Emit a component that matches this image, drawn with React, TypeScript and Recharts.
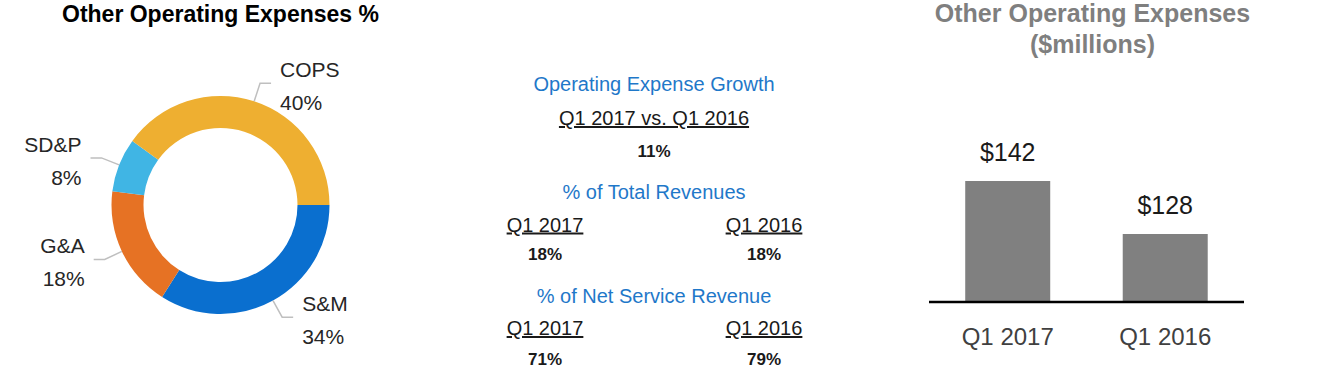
import React from 'react';
import { PieChart, Pie, Cell, BarChart, Bar, XAxis, YAxis, LabelList } from 'recharts';

// donut: share of other operating expenses (clockwise from 3 o'clock)
const sliceNames = ['S&M', 'G&A', 'SD&P', 'COPS'];
const sliceValues = [34, 18, 8, 40];
const sliceColors = ['#0A6FCF', '#E67224', '#40B5E4', '#EEAF31'];

// middle text block
const growthLabel = 'Q1 2017 vs. Q1 2016';
const growthValue = '11%';
const periods = ['Q1 2017', 'Q1 2016'];
const totalRevenuePct = [18, 18];
const netServicePct = [71, 79];

// bars ($ millions)
const barValues = [142, 128];

const FONT = '"Liberation Sans", Arial, sans-serif';
const RADIAN = Math.PI / 180;

const pieData = sliceNames.map((name, i) => ({ name, value: sliceValues[i] }));
const barData = periods.map((period, i) => ({ period, value: barValues[i] }));

function renderSliceLabel(props: any) {
  const { cx, cy, midAngle, outerRadius, name, value } = props;
  const cos = Math.cos(-midAngle * RADIAN);
  const sin = Math.sin(-midAngle * RADIAN);
  const sx = cx + outerRadius * cos;
  const sy = cy + outerRadius * sin;
  const ex = cx + (outerRadius + 19) * cos;
  const ey = cy + (outerRadius + 19) * sin;
  const dir = cos >= 0 ? 1 : -1;
  const hx = ex + dir * 11;
  const tx = ex + dir * 20;
  const anchor = dir > 0 ? 'start' : 'end';
  return (
    <g>
      <polyline
        points={`${sx},${sy} ${ex},${ey} ${hx},${ey}`}
        fill="none"
        stroke="#bfbfbf"
        strokeWidth={1.5}
      />
      <text x={tx} y={ey - 6} textAnchor={anchor} fill="#262626" fontSize={21} fontFamily={FONT}>
        {name}
      </text>
      <text x={tx} y={ey + 27} textAnchor={anchor} fill="#262626" fontSize={21} fontFamily={FONT}>
        {`${value}%`}
      </text>
    </g>
  );
}

export default function App() {
  const blue = '#1F78C9';
  const dark = '#1a1a1a';
  const colL = 545;
  const colR = 764;
  const mid = 654;

  return (
    <div style={{ position: 'absolute', left: 0, top: 0, width: 1318, height: 374, background: '#fff' }}>
      <div style={{ position: 'absolute', left: 0, top: 0 }}>
        <PieChart width={420} height={374} margin={{ top: 0, right: 0, bottom: 0, left: 0 }}>
          <Pie
            data={pieData}
            dataKey="value"
            nameKey="name"
            cx={220.5}
            cy={205}
            innerRadius={77}
            outerRadius={109}
            startAngle={0}
            endAngle={-360}
            stroke="none"
            label={renderSliceLabel}
            labelLine={false}
            isAnimationActive={false}
          >
            {pieData.map((d, i) => (
              <Cell key={d.name} fill={sliceColors[i]} />
            ))}
          </Pie>
        </PieChart>
      </div>

      <div style={{ position: 'absolute', left: 900, top: 0 }}>
        <BarChart
          width={418}
          height={374}
          data={barData}
          margin={{ top: 113, right: 74, bottom: 0, left: 29 }}
          barCategoryGap="23%"
        >
          <XAxis
            dataKey="period"
            height={72}
            axisLine={{ stroke: '#000', strokeWidth: 2.5 }}
            tickLine={false}
            tickMargin={20}
            tick={{ fill: '#404040', fontSize: 24, fontFamily: FONT }}
          />
          <YAxis hide domain={[110, 160]} />
          <Bar dataKey="value" fill="#808080" isAnimationActive={false}>
            <LabelList
              dataKey="value"
              position="top"
              offset={20}
              formatter={(v: any) => `$${v}`}
              fill={dark}
              fontSize={25}
              fontFamily={FONT}
            />
          </Bar>
        </BarChart>
      </div>

      <svg
        width={1318}
        height={374}
        style={{ position: 'absolute', left: 0, top: 0, pointerEvents: 'none' }}
        fontFamily={FONT}
      >
        <text x={220.5} y={21.5} textAnchor="middle" fontSize={23} fontWeight="bold" fill="#000">
          Other Operating Expenses %
        </text>

        <text x={mid} y={91} textAnchor="middle" fontSize={20} fill={blue}>Operating Expense Growth</text>
        <text x={mid} y={125} textAnchor="middle" fontSize={20} fill={dark} textDecoration="underline">{growthLabel}</text>
        <text x={mid} y={157} textAnchor="middle" fontSize={17} fontWeight="bold" fill={dark}>{growthValue}</text>

        <text x={mid} y={199} textAnchor="middle" fontSize={20} fill={blue}>% of Total Revenues</text>
        <text x={colL} y={231.5} textAnchor="middle" fontSize={20} fill={dark} textDecoration="underline">{periods[0]}</text>
        <text x={colR} y={231.5} textAnchor="middle" fontSize={20} fill={dark} textDecoration="underline">{periods[1]}</text>
        <text x={colL} y={260} textAnchor="middle" fontSize={17} fontWeight="bold" fill={dark}>{`${totalRevenuePct[0]}%`}</text>
        <text x={colR} y={260} textAnchor="middle" fontSize={17} fontWeight="bold" fill={dark}>{`${totalRevenuePct[1]}%`}</text>

        <text x={mid} y={302.5} textAnchor="middle" fontSize={20} fill={blue}>% of Net Service Revenue</text>
        <text x={colL} y={335} textAnchor="middle" fontSize={20} fill={dark} textDecoration="underline">{periods[0]}</text>
        <text x={colR} y={335} textAnchor="middle" fontSize={20} fill={dark} textDecoration="underline">{periods[1]}</text>
        <text x={colL} y={365} textAnchor="middle" fontSize={17} fontWeight="bold" fill={dark}>{`${netServicePct[0]}%`}</text>
        <text x={colR} y={365} textAnchor="middle" fontSize={17} fontWeight="bold" fill={dark}>{`${netServicePct[1]}%`}</text>

        <text x={1092.5} y={22} textAnchor="middle" fontSize={25} fontWeight="bold" fill="#7f7f7f">Other Operating Expenses</text>
        <text x={1092.5} y={53} textAnchor="middle" fontSize={25} fontWeight="bold" fill="#7f7f7f">($millions)</text>
      </svg>
    </div>
  );
}
